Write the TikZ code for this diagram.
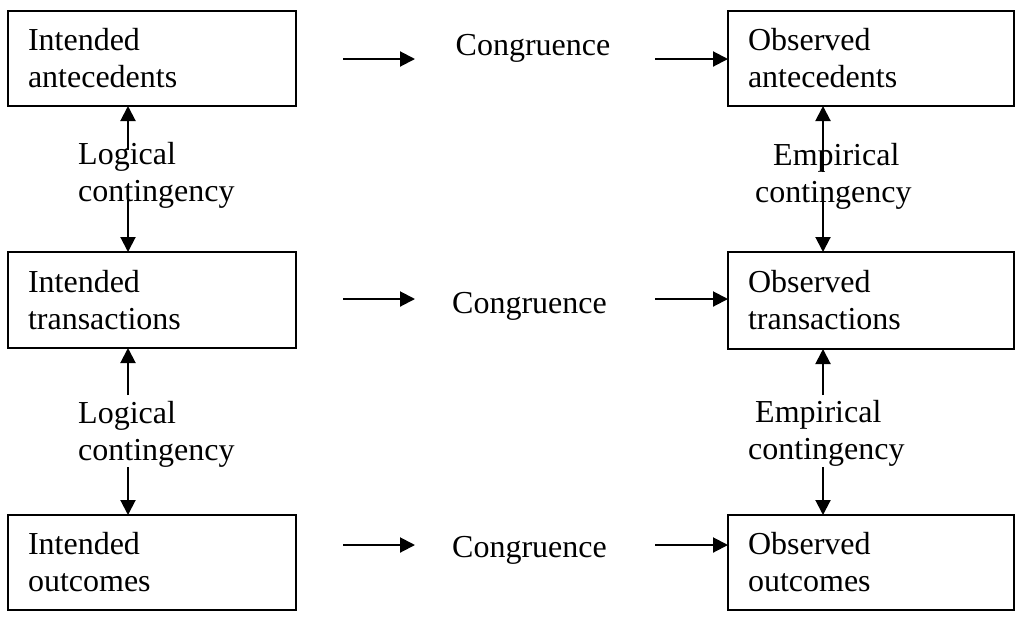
\documentclass[tikz,border=0pt]{standalone}
\usepackage{fontspec}
\setmainfont{Liberation Serif}
\usetikzlibrary{arrows.meta}
\begin{document}
\begin{tikzpicture}[x=1pt,y=-1pt,
  box/.style={draw, line width=2.5pt, rectangle, anchor=north west, outer sep=0pt,
    minimum height=95pt, inner xsep=20pt, inner ysep=0pt, align=left,
    font=\fontsize{32}{37}\selectfont},
  lbl/.style={inner sep=0pt, anchor=north west, align=left, font=\fontsize{32}{37}\selectfont},
  cong/.style={inner sep=0pt, anchor=base, font=\fontsize{32}{37}\selectfont},
  arr/.style={line width=2pt, -{Triangle[length=15pt,width=15pt]}}
]
\useasboundingbox (0,0) rectangle (1016,619);

% boxes
\node[box, text width=248pt] (ia) at (8,11) {Intended\\antecedents};
\node[box, text width=248pt, minimum height=96pt] (it) at (8,252) {Intended\\transactions};
\node[box, text width=248pt] (io) at (8,515) {Intended\\outcomes};
\node[box, text width=246pt] (oa) at (728,11) {Observed\\antecedents};
\node[box, text width=246pt, minimum height=97pt] (ot) at (728,252) {Observed\\transactions};
\node[box, text width=246pt] (oo) at (728,515) {Observed\\outcomes};

% congruence labels
\node[cong] (c1) at (533,55) {Congruence};
\node[cong] (c2) at (529.5,313) {Congruence};
\node[cong] (c3) at (529.5,557) {Congruence};

% horizontal arrows
\coordinate (h1a) at (343,59); \coordinate (h1b) at (415,59); \coordinate (h1c) at (655,59);
\coordinate (h2a) at (343,299); \coordinate (h2b) at (415,299); \coordinate (h2c) at (655,299);
\coordinate (h3a) at (343,545); \coordinate (h3b) at (415,545); \coordinate (h3c) at (655,545);
\draw[arr] (h1a) -- (h1b);
\draw[arr] (h1c) -- (h1c -| oa.west);
\draw[arr] (h2a) -- (h2b);
\draw[arr] (h2c) -- (h2c -| ot.west);
\draw[arr] (h3a) -- (h3b);
\draw[arr] (h3c) -- (h3c -| oo.west);

% vertical arrows, left column
\coordinate (l1u) at (128,150); \coordinate (l1d) at (128,198);
\coordinate (l2u) at (128,395); \coordinate (l2d) at (128,467);
\draw[arr] (l1u) -- (l1u |- ia.south);
\draw[arr] (l1d) -- (l1d |- it.north);
\draw[arr] (l2u) -- (l2u |- it.south);
\draw[arr] (l2d) -- (l2d |- io.north);

% vertical arrows, right column
\coordinate (r1u) at (823,172); \coordinate (r1d) at (823,202);
\coordinate (r2u) at (823,395); \coordinate (r2d) at (823,467);
\draw[arr] (r1u) -- (r1u |- oa.south);
\draw[arr] (r1d) -- (r1d |- ot.north);
\draw[arr] (r2u) -- (r2u |- ot.south);
\draw[arr] (r2d) -- (r2d |- oo.north);

% contingency labels
\node[lbl] (lc1) at (78,142) {Logical\\contingency};
\node[lbl] (lc2) at (78,401) {Logical\\contingency};
\node[lbl] (ec1) at (755,143) {\hspace*{18pt}Empirical\\contingency};
\node[lbl] (ec2) at (748,400) {\hspace*{7pt}Empirical\\contingency};
\end{tikzpicture}
\end{document}
